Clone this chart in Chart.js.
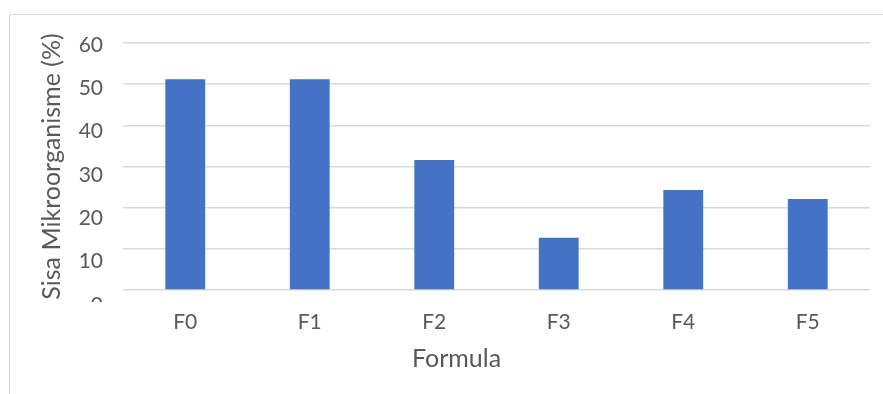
<!DOCTYPE html>
<html>
<head>
<meta charset="utf-8">
<script src="https://cdn.jsdelivr.net/npm/chart.js@4.4.1/dist/chart.umd.min.js"></script>
<style>
  html, body { margin: 0; padding: 0; background: #fff; overflow: hidden; }
  #wrap { position: relative; width: 883px; height: 394px; }
  #frame { position: absolute; left: 9px; top: 14px; width: 1000px; height: 1000px; border: 1.5px solid #d9d9d9; }
  #chart { position: absolute; left: 0; top: 0; }
</style>
</head>
<body>
<div id="wrap">
  <div id="frame"></div>
  <canvas id="chart" width="883" height="394"></canvas>
</div>
<script>
// Chart data
const formulas = ['F0', 'F1', 'F2', 'F3', 'F4', 'F5'];
const sisaValues = [51.2, 51.2, 31.6, 12.7, 24.3, 22.1];
const yTicks = [0, 10, 20, 30, 40, 50, 60];

const textColor = '#595959';
const fontFamily = 'Lato, "Open Sans", sans-serif';

// in the original the tick labels drift a little below their gridlines
// (label spacing slightly larger than grid spacing); a label-only axis with
// a shifted range reproduces that
const labelMin = 3.46;
const labelMax = 60.46;

// bottom-left corner of the chart is cut off in the original (the "0" label)
const cornerClip = {
    id: 'cornerClip',
    beforeDraw(chart) {
        const ctx = chart.ctx;
        ctx.save();
        ctx.beginPath();
        ctx.moveTo(0, 0);
        ctx.lineTo(chart.width, 0);
        ctx.lineTo(chart.width, chart.height);
        ctx.lineTo(118, chart.height);
        ctx.lineTo(118, 302);
        ctx.lineTo(0, 302);
        ctx.closePath();
        ctx.clip();
    },
    afterDraw(chart) {
        chart.ctx.restore();
    }
};

const ctx = document.getElementById('chart').getContext('2d');
const chart = new Chart(ctx, {
    type: 'bar',
    data: {
        labels: formulas,
        datasets: [{
            label: 'Sisa Mikroorganisme (%)',
            data: sisaValues,
            yAxisID: 'y',
            backgroundColor: '#4472C4',
            borderWidth: 0,
            categoryPercentage: 1,
            barPercentage: 0.32
        }]
    },
    options: {
        responsive: false,
        animation: false,
        layout: { padding: { top: 43, left: 43, right: 13, bottom: 20 } },
        plugins: {
            legend: { display: false },
            tooltip: { enabled: false },
            title: {
                display: true,
                position: 'bottom',
                text: 'Formula',
                color: textColor,
                font: { family: fontFamily, size: 25, weight: 'normal', lineHeight: 1.2 },
                padding: { top: 11, bottom: 0 }
            }
        },
        scales: {
            x: {
                afterFit: scale => { scale.height = 43; },
                grid: { display: false, drawTicks: false },
                border: { display: false },
                ticks: {
                    color: textColor,
                    font: { family: fontFamily, size: 21 },
                    padding: 20
                }
            },
            y: {
                position: 'left',
                min: 0,
                max: 60,
                afterBuildTicks: scale => { scale.ticks = yTicks.map(v => ({ value: v })); },
                afterFit: scale => { scale.width = 0; },
                grid: { color: '#d9d9d9', lineWidth: 1.5, drawTicks: false },
                border: { display: false },
                ticks: { display: false }
            },
            yLabels: {
                position: 'left',
                min: labelMin,
                max: labelMax,
                afterBuildTicks: scale => { scale.ticks = yTicks.map(v => ({ value: v })); },
                afterFit: scale => { scale.width = 80; },
                grid: { display: false, drawTicks: false },
                border: { display: false },
                ticks: {
                    autoSkip: false,
                    color: textColor,
                    font: { family: fontFamily, size: 21 },
                    padding: 20
                },
                title: {
                    display: true,
                    text: 'Sisa Mikroorganisme (%)',
                    color: textColor,
                    font: { family: fontFamily, size: 25, lineHeight: 0.75 },
                    padding: 0
                }
            }
        }
    },
    plugins: [cornerClip]
});
</script>
</body>
</html>
